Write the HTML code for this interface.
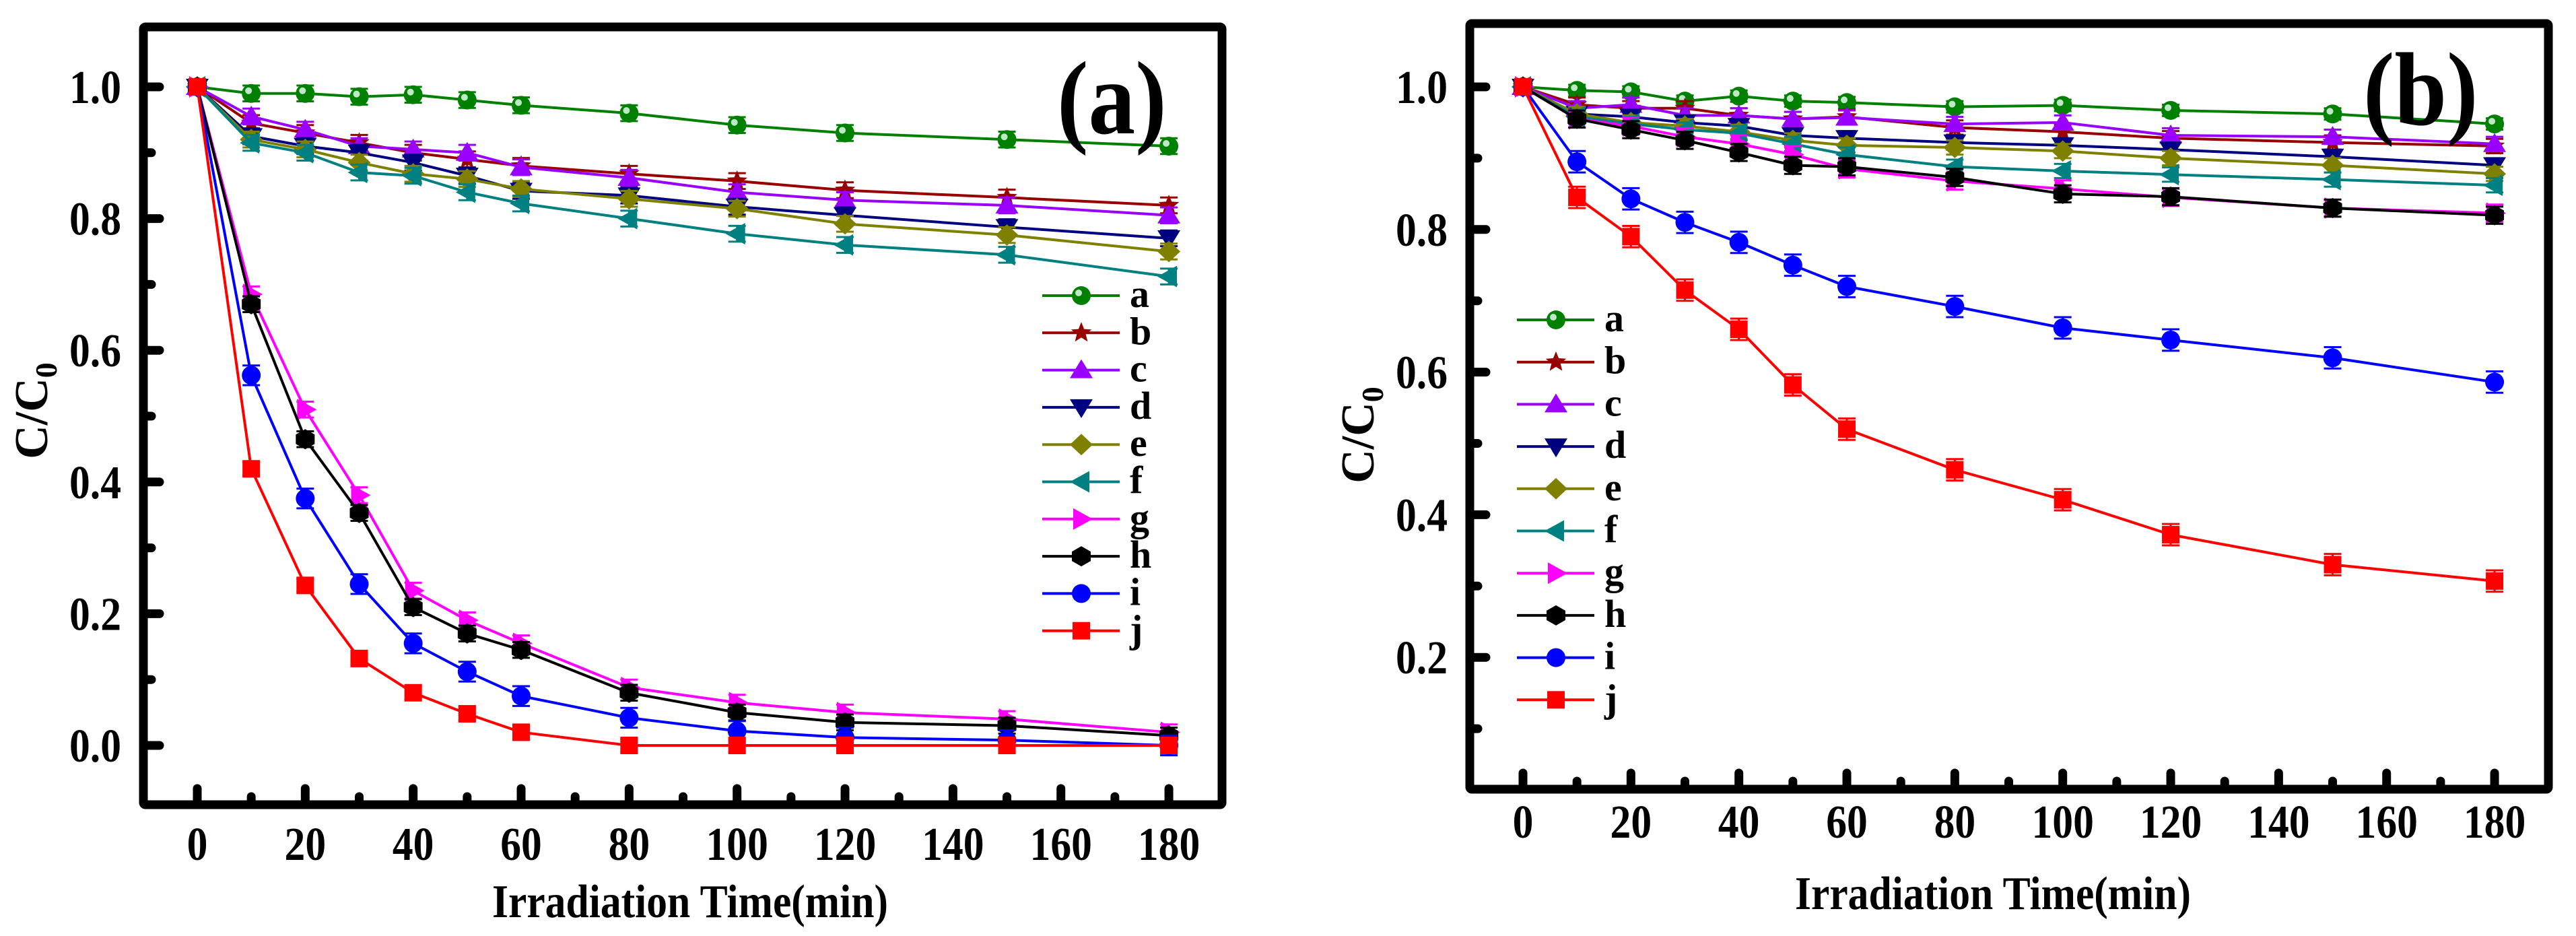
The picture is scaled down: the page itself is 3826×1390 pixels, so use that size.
<!DOCTYPE html>
<html><head><meta charset="utf-8"><style>
html,body{margin:0;padding:0;background:#fff;}
svg{display:block;}
svg text{font-family:"Liberation Serif","DejaVu Serif",serif;font-weight:bold;}
</style></head><body>
<svg id="chart" width="3826" height="1390" viewBox="0 0 3826 1390" xmlns="http://www.w3.org/2000/svg"></svg>
<script>
const times = [0,10,20,30,40,50,60,80,100,120,150,180];
const seriesNames = ['a','b','c','d','e','f','g','h','i','j'];
const seriesColors = ['#008000','#990000','#9900ff','#000080','#808000','#008080','#ff00ff','#000000','#0000ff','#ff0000'];
const seriesMarkers = ['ball','star','up','down','diamond','left','right','hex','circle','square'];
const xTickLabels = [0,20,40,60,80,100,120,140,160,180];
const yTickLabelsA = ['0.0','0.2','0.4','0.6','0.8','1.0'];
const yTickLabelsB = ['0.2','0.4','0.6','0.8','1.0'];
const aA = [1,.99,.99,.985,.988,.98,.972,.96,.942,.93,.92,.91];
const aB = [1,.945,.93,.915,.9,.89,.88,.868,.857,.843,.832,.82];
const aC = [1,.955,.935,.91,.905,.9,.878,.862,.84,.828,.82,.805];
const aD = [1,.925,.91,.9,.885,.865,.842,.835,.818,.805,.787,.77];
const aE = [1,.92,.905,.885,.868,.86,.845,.83,.815,.792,.775,.75];
const aF = [1,.915,.9,.87,.865,.84,.823,.8,.777,.76,.745,.712];
const aG = [1,.685,.51,.38,.235,.19,.155,.088,.065,.05,.04,.02];
const aH = [1,.67,.465,.353,.21,.17,.145,.08,.05,.035,.03,.015];
const aI = [1,.562,.375,.245,.155,.112,.075,.042,.022,.012,.008,0];
const aJ = [1,.42,.243,.132,.08,.048,.02,0,0,0,0,0];
const bA = [1,.995,.993,.98,.987,.98,.978,.972,.974,.967,.962,.948];
const bB = [1,.975,.97,.97,.96,.955,.958,.943,.937,.928,.922,.917];
const bC = [1,.97,.975,.96,.96,.955,.957,.948,.95,.932,.93,.92];
const bD = [1,.962,.958,.95,.945,.932,.928,.922,.918,.912,.902,.89];
const bE = [1,.962,.95,.945,.937,.925,.918,.915,.91,.9,.89,.878];
const bF = [1,.958,.948,.94,.935,.92,.905,.888,.882,.877,.87,.862];
const bG = [1,.955,.945,.93,.92,.905,.885,.868,.857,.845,.83,.823];
const bH = [1,.955,.94,.925,.908,.89,.888,.873,.85,.846,.83,.82];
const bI = [1,.895,.843,.81,.782,.75,.72,.692,.662,.645,.62,.586];
const bJ = [1,.845,.79,.715,.66,.582,.52,.463,.421,.372,.33,.307];
const errA = [.012,.012,.012,.012,.012,.012,.012,.012,.015,.01];
const errB = [.008,.01,.01,.01,.01,.01,.012,.012,.015,.015];

const NS='http://www.w3.org/2000/svg';
const FONT='Liberation Serif, DejaVu Serif, serif';
const svg=document.getElementById('chart');
function mk(tag,attrs,parent){const e=document.createElementNS(NS,tag);for(const k in attrs)e.setAttribute(k,attrs[k]);if(tag==='text'){e.setAttribute('font-family',FONT);e.setAttribute('font-weight','bold');}(parent||svg).appendChild(e);return e;}

function marker(g,type,cx,cy,color){
  const r=14;let e;
  if(type==='ball'||type==='circle'){
    e=mk('circle',{cx,cy,r,fill:color},g);
    if(type==='ball'){mk('circle',{cx:cx-4,cy:cy-4,r:5,fill:'#bfe8c8'},g);}
  }else if(type==='square'){e=mk('rect',{x:cx-13,y:cy-13,width:26,height:26,fill:color},g);}
  else{
    let pts;
    if(type==='up')pts=[[0,-16],[17,12],[-17,12]];
    else if(type==='down')pts=[[0,16],[17,-12],[-17,-12]];
    else if(type==='left')pts=[[-17,0],[12,-16],[12,16]];
    else if(type==='right')pts=[[17,0],[-12,-16],[-12,16]];
    else if(type==='diamond')pts=[[0,-16],[17,0],[0,16],[-17,0]];
    else if(type==='hex')pts=[[0,-15],[14,-7],[14,7],[0,15],[-14,7],[-14,-7]];
    else if(type==='star'){pts=[];for(let i=0;i<10;i++){const a=-Math.PI/2+i*Math.PI/5;const rr=i%2?7:16;pts.push([rr*Math.cos(a),rr*Math.sin(a)]);}}
    e=mk('polygon',{points:pts.map(p=>(cx+p[0])+','+(cy+p[1])).join(' '),fill:color},g);
  }
  return e;
}

function panel(cfg){
  const X=v=>cfg.x0+v*cfg.xs;
  const Y=v=>cfg.y0-v*cfg.ys;
  const pg=mk('g',{});
  
  
  for(let t=0;t<=180;t+=10){
    const major=t%20===0;
    const tk=mk('line',{x1:X(t),x2:X(t),y1:cfg.bottom,y2:cfg.bottom-(major?24:12),stroke:'#000','stroke-width':13,'stroke-linecap':'round'},pg);
    
    
  }
  xTickLabels.forEach(v=>{
    const t=mk('text',{transform:`translate(${X(v)},${cfg.xlabY}) scale(0.88,1)`,'text-anchor':'middle','font-size':70},pg);
    t.textContent=v;
    
    
  });
  for(let k=cfg.yMinTick;k<=10;k++){
    const v=k/10, major=k%2===0;
    const tk=mk('line',{x1:cfg.left,x2:cfg.left+(major?24:12),y1:Y(v),y2:Y(v),stroke:'#000','stroke-width':13,'stroke-linecap':'round'},pg);
    
    
  }
  cfg.ylabels.forEach(s=>{
    const t=mk('text',{transform:`translate(${cfg.ylabX},${Y(parseFloat(s))+24}) scale(0.88,1)`,'text-anchor':'end','font-size':70},pg);
    t.textContent=s;
    
    
  });
  const fr=mk('rect',{x:cfg.left,y:cfg.top,width:cfg.right-cfg.left,height:cfg.bottom-cfg.top,fill:'none',stroke:'#000','stroke-width':13,rx:3},pg);
  
  
  cfg.data.forEach((vals,si)=>{
    const sg=mk('g',{},pg);
    
    
    const col=seriesColors[si];
    const ln=mk('polyline',{points:vals.map((v,i)=>X(times[i])+','+Y(v)).join(' '),fill:'none',stroke:col,'stroke-width':4},sg);
    
    
    vals.forEach((v,i)=>{
      if(i>0){
        const e=cfg.err[si];
        mk('line',{x1:X(times[i]),x2:X(times[i]),y1:Y(v+e),y2:Y(v-e),stroke:col,'stroke-width':3},sg);
        mk('line',{x1:X(times[i])-13,x2:X(times[i])+13,y1:Y(v+e),y2:Y(v+e),stroke:col,'stroke-width':3},sg);
        mk('line',{x1:X(times[i])-13,x2:X(times[i])+13,y1:Y(v-e),y2:Y(v-e),stroke:col,'stroke-width':3},sg);
      }
      const m=marker(sg,seriesMarkers[si],X(times[i]),Y(v),col);
      
      
    });
  });
  const lg=mk('g',{},pg);
  
  
  seriesNames.forEach((n,i)=>{
    const y=cfg.legY+i*cfg.legDy;
    const eg=mk('g',{},lg);
    
    
    mk('line',{x1:cfg.legX,x2:cfg.legX+115,y1:y,y2:y,stroke:seriesColors[i],'stroke-width':4},eg);
    marker(eg,seriesMarkers[i],cfg.legX+58,y,seriesColors[i]);
    const t=mk('text',{x:cfg.legX+130,y:y+17,'font-size':58},eg);
    t.textContent=n;
  });
  const pl=mk('text',{transform:`translate(${cfg.plX},${cfg.plY}) scale(0.9,1)`,'font-size':155},pg);
  pl.textContent=cfg.label;
  
  
  const xt=mk('text',{transform:`translate(${cfg.xtX},${cfg.xtY}) scale(0.88,1)`,'text-anchor':'middle','font-size':70},pg);
  xt.textContent='Irradiation Time(min)';
  
  
  const yt=mk('text',{transform:`translate(${cfg.ytX},${cfg.ytY}) rotate(-90)`,'text-anchor':'middle','font-size':70},pg);
  yt.innerHTML='C/C<tspan font-size="46" dy="14">0</tspan>';
  
  
}

panel({name:'panel-a',label:'(a)',x0:293,xs:8.017,y0:1107,ys:978,left:213,right:1815,top:40,bottom:1195,
  xlabY:1277,ylabX:180,yMinTick:0,ylabels:yTickLabelsA,data:[aA,aB,aC,aD,aE,aF,aG,aH,aI,aJ],err:errA,
  legX:1548,legY:439,legDy:55.3,plX:1570,plY:198,xtX:1025,xtY:1362,ytX:70,ytY:610});
panel({name:'panel-b',label:'(b)',x0:2262,xs:8.017,y0:1188,ys:1059,left:2183,right:3785,top:35,bottom:1172,
  xlabY:1244,ylabX:2150,yMinTick:1,ylabels:yTickLabelsB,data:[bA,bB,bC,bD,bE,bF,bG,bH,bI,bJ],err:errB,
  legX:2253,legY:475,legDy:62.7,plX:3510,plY:185,xtX:2960,xtY:1350,ytX:2040,ytY:646});
</script>
</body></html>
